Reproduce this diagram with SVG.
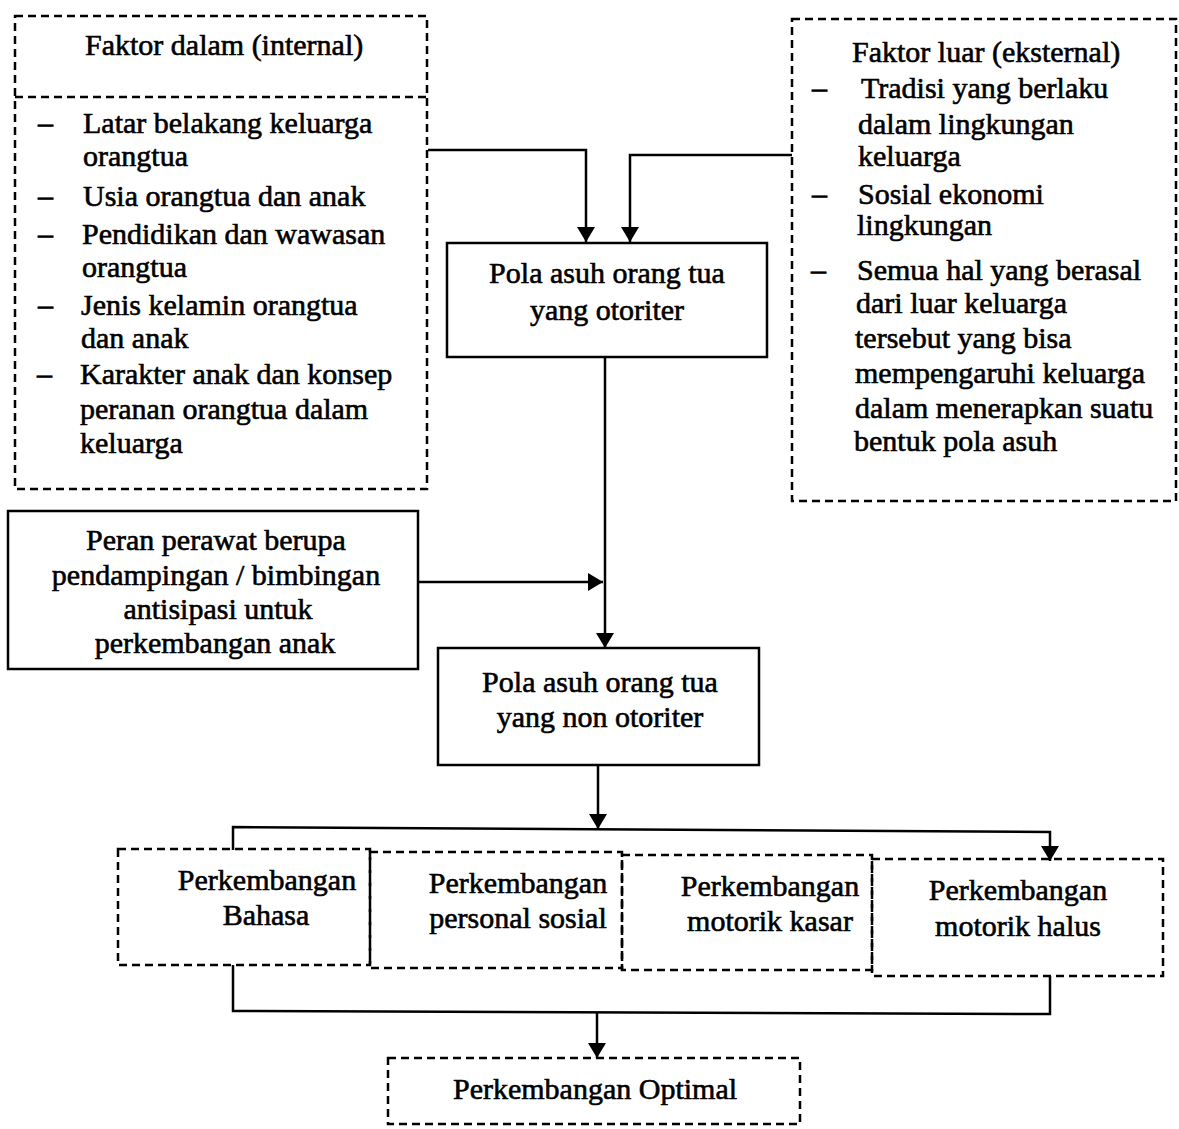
<svg xmlns="http://www.w3.org/2000/svg" width="1179" height="1129" viewBox="0 0 1179 1129">
<defs>
<marker id="arr" viewBox="0 0 15 18" refX="15" refY="9" markerWidth="15" markerHeight="18" markerUnits="userSpaceOnUse" orient="auto">
<path d="M0,0 L15,9 L0,18 Z" fill="#000"/>
</marker>
</defs>
<style>
text{font-family:"Liberation Serif","Times New Roman",serif;font-size:30px;fill:#000;stroke:#000;stroke-width:0.6}
.c{text-anchor:middle}
.dash{fill:none;stroke:#000;stroke-width:2.5;stroke-dasharray:8 5}
.solid{fill:#fff;stroke:#000;stroke-width:2.5}
.ln{fill:none;stroke:#000;stroke-width:2.5}
</style>
<rect width="1179" height="1129" fill="#fff"/>
<g id="connectors">
<path class="ln" d="M428,150 H586 V242" marker-end="url(#arr)"/>
<path class="ln" d="M792,155 H630 V242" marker-end="url(#arr)"/>
<path class="ln" d="M605,357 V648" marker-end="url(#arr)"/>
<path class="ln" d="M418,582 H603" marker-end="url(#arr)"/>
<path class="ln" d="M598,765 V829" marker-end="url(#arr)"/>
<path class="ln" d="M233,850 V827 L1050,832 V861" marker-end="url(#arr)"/>
<path class="ln" d="M233,965 V1011 L1050,1014 V976"/>
<path class="ln" d="M597,1012 V1058" marker-end="url(#arr)"/>
</g>
<g id="internal">
<rect class="dash" x="15" y="16" width="412" height="473"/>
<line class="dash" x1="15" y1="97" x2="427" y2="97"/>
<text x="85" y="55">Faktor dalam (internal)</text>
<text x="38" y="133">–</text><text x="83" y="133">Latar belakang keluarga</text>
<text x="83" y="166">orangtua</text>
<text x="38" y="206">–</text><text x="83" y="206">Usia orangtua dan anak</text>
<text x="38" y="244">–</text><text x="82" y="244">Pendidikan dan wawasan</text>
<text x="82" y="277">orangtua</text>
<text x="38" y="315">–</text><text x="81" y="315">Jenis kelamin orangtua</text>
<text x="81" y="348">dan anak</text>
<text x="37" y="384">–</text><text x="80" y="384">Karakter anak dan konsep</text>
<text x="80" y="419">peranan orangtua dalam</text>
<text x="80" y="453">keluarga</text>
</g>
<g id="external">
<rect class="dash" x="792" y="19" width="384" height="482"/>
<text x="852" y="62">Faktor luar (eksternal)</text>
<text x="812" y="98">–</text><text x="861" y="98">Tradisi yang berlaku</text>
<text x="858" y="134">dalam lingkungan</text>
<text x="858" y="166">keluarga</text>
<text x="812" y="204">–</text><text x="858" y="204">Sosial ekonomi</text>
<text x="857" y="235">lingkungan</text>
<text x="811" y="280">–</text><text x="857" y="280">Semua hal yang berasal</text>
<text x="856" y="313">dari luar keluarga</text>
<text x="855" y="348">tersebut yang bisa</text>
<text x="855" y="383">mempengaruhi keluarga</text>
<text x="855" y="418">dalam menerapkan suatu</text>
<text x="854" y="451">bentuk pola asuh</text>
</g>
<g id="otoriter">
<rect class="solid" x="447" y="243" width="320" height="114"/>
<text class="c" x="607" y="283">Pola asuh orang tua</text>
<text class="c" x="607" y="320">yang otoriter</text>
</g>
<g id="peran">
<rect class="solid" x="8" y="511" width="410" height="158"/>
<text class="c" x="216" y="550">Peran perawat berupa</text>
<text class="c" x="216" y="585">pendampingan / bimbingan</text>
<text class="c" x="218" y="619">antisipasi untuk</text>
<text class="c" x="215" y="653">perkembangan anak</text>
</g>
<g id="nonotoriter">
<rect class="solid" x="438" y="648" width="321" height="117"/>
<text class="c" x="600" y="692">Pola asuh orang tua</text>
<text class="c" x="600" y="727">yang non otoriter</text>
</g>
<g id="bahasa">
<rect class="dash" x="118" y="849" width="252" height="116"/>
<text class="c" x="267" y="890">Perkembangan</text>
<text class="c" x="266" y="925">Bahasa</text>
</g>
<g id="personal">
<rect class="dash" x="370" y="852" width="252" height="116"/>
<text class="c" x="518" y="893">Perkembangan</text>
<text class="c" x="518" y="928">personal sosial</text>
</g>
<g id="kasar">
<rect class="dash" x="622" y="855" width="250" height="115"/>
<text class="c" x="770" y="896">Perkembangan</text>
<text class="c" x="770" y="931">motorik kasar</text>
</g>
<g id="halus">
<rect class="dash" x="872" y="859" width="291" height="117"/>
<text class="c" x="1018" y="900">Perkembangan</text>
<text class="c" x="1018" y="936">motorik halus</text>
</g>
<g id="optimal">
<rect class="dash" x="388" y="1058" width="412" height="66"/>
<text class="c" x="595" y="1099">Perkembangan Optimal</text>
</g>
</svg>
